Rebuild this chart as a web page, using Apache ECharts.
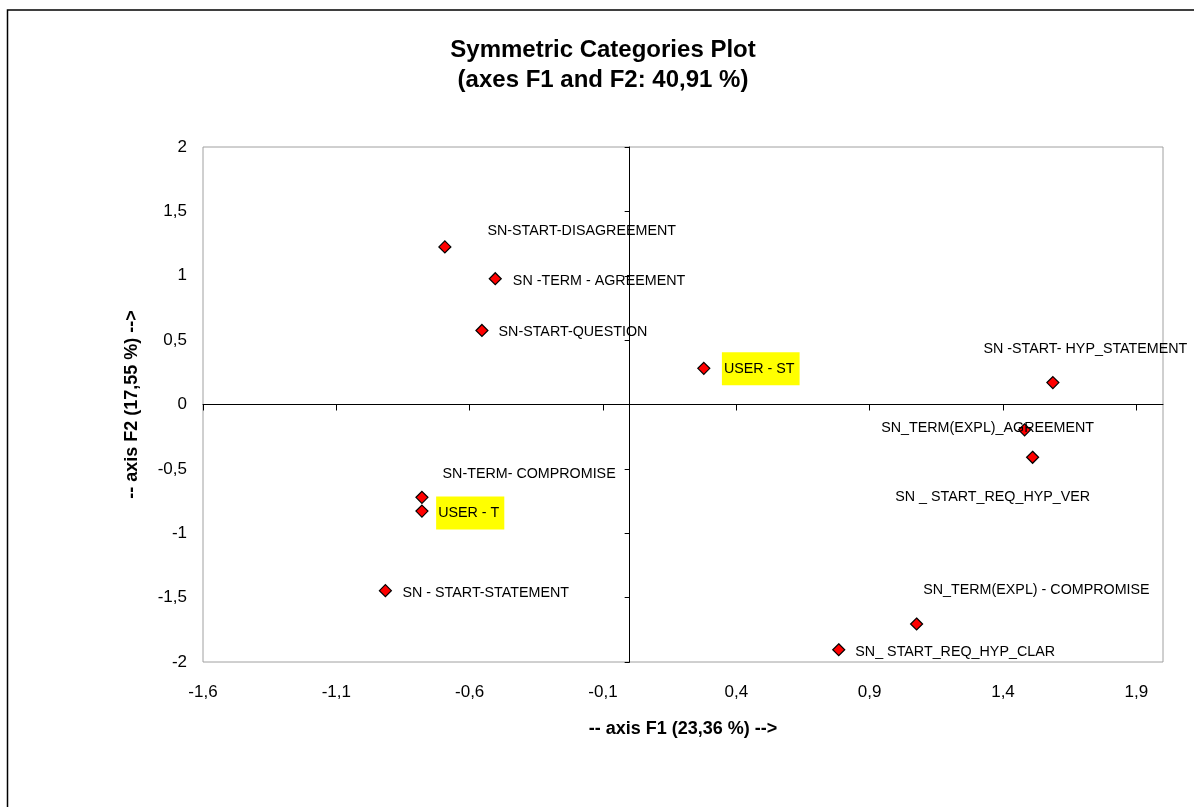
<!DOCTYPE html>
<html><head><meta charset="utf-8">
<script src="https://cdn.jsdelivr.net/npm/echarts@6/dist/echarts.min.js"></script>
<style>html,body{margin:0;padding:0;background:#fff}#c{width:1194px;height:807px}</style>
</head><body><div id="c"></div>
<script>
// ---- data ----
const categories = ['SN-START-DISAGREEMENT', 'SN -TERM - AGREEMENT', 'SN-START-QUESTION', 'USER - ST',
  'SN -START- HYP_STATEMENT', 'SN_TERM(EXPL)_AGREEMENT', 'SN _ START_REQ_HYP_VER', 'SN-TERM- COMPROMISE',
  'USER - T', 'SN - START-STATEMENT', 'SN_TERM(EXPL) - COMPROMISE', 'SN_ START_REQ_HYP_CLAR'];
const f1Values = [-0.693, -0.504, -0.554, 0.278, 1.587, 1.481, 1.511, -0.779, -0.779, -0.916, 1.076, 0.784];
const f2Values = [1.224, 0.977, 0.575, 0.281, 0.170, -0.197, -0.410, -0.721, -0.828, -1.446, -1.705, -1.905];
const xTickValues = [-1.6, -1.1, -0.6, -0.1, 0.4, 0.9, 1.4, 1.9];
const yTickValues = [-2, -1.5, -1, -0.5, 0, 0.5, 1, 1.5, 2];
const highlighted = ['USER - ST', 'USER - T'];

// ---- layout / style ----
const FONT = '"Liberation Sans", Arial, sans-serif';
const SYM = 12;
// label placement: [left of text relative to marker centre, vertical shift]
const labelPlacement = {
  'SN-START-DISAGREEMENT': [42, -16],
  'SN -TERM - AGREEMENT': [17, 2],
  'SN-START-QUESTION': [16, 2],
  'USER - ST': [17.5, 0.5],
  'SN -START- HYP_STATEMENT': [-70, -34],
  'SN_TERM(EXPL)_AGREEMENT': [-144, -2],
  'SN _ START_REQ_HYP_VER': [-138, 40],
  'SN-TERM- COMPROMISE': [20, -23],
  'USER - T': [13.6, 2],
  'SN - START-STATEMENT': [16.5, 2],
  'SN_TERM(EXPL) - COMPROMISE': [6, -34],
  'SN_ START_REQ_HYP_CLAR': [16, 2.4]
};
const comma = v => String(v).replace('.', ',');

const points = categories.map((name, i) => {
  const p = labelPlacement[name];
  const lab = { offset: [p[0] - SYM / 2, p[1]] };
  if (highlighted.indexOf(name) >= 0) {
    lab.backgroundColor = '#ffff00';
    lab.padding = [9, 5, 9, 2];
  }
  return { name: name, value: [f1Values[i], f2Values[i]], label: lab };
});

const xCommon = { type: 'value', min: -1.6, max: 2.0, position: 'bottom', gridIndex: 0 };
const yCommon = { type: 'value', min: -2, max: 2, interval: 0.5, position: 'left', gridIndex: 0 };

const chart = echarts.init(document.getElementById('c'), null, { renderer: 'canvas' });
chart.setOption({
  animation: false,
  backgroundColor: '#ffffff',
  textStyle: { fontFamily: FONT },
  title: {
    text: 'Symmetric Categories Plot\n(axes F1 and F2: 40,91 %)',
    left: 603, top: 35, padding: 0, textAlign: 'center',
    textStyle: { fontFamily: FONT, fontSize: 24, fontWeight: 'bold', color: '#000', lineHeight: 30 }
  },
  graphic: [{
    type: 'rect', silent: true, z: -1,
    shape: { x: 7.5, y: 10, width: 1300, height: 900 },
    style: { fill: 'none', stroke: '#000', lineWidth: 1.5 }
  }],
  grid: { left: 203, right: 31, top: 147, bottom: 145, show: true, borderColor: '#a0a0a0', borderWidth: 1, backgroundColor: 'transparent' },
  xAxis: [
    Object.assign({}, xCommon, {
      name: '-- axis F1 (23,36 %) -->', nameLocation: 'middle', nameGap: 58,
      nameTextStyle: { fontFamily: FONT, fontSize: 18, fontWeight: 'bold', color: '#000' },
      axisLine: { show: false, onZero: false }, axisTick: { show: false }, splitLine: { show: false },
      axisLabel: { customValues: xTickValues, formatter: comma, fontFamily: FONT, fontSize: 17, color: '#000', margin: 22 }
    }),
    Object.assign({}, xCommon, {
      axisLine: { show: true, onZero: true, onZeroAxisIndex: 0, lineStyle: { color: '#000', width: 1 } },
      axisTick: { show: true, inside: false, length: 6, customValues: xTickValues, lineStyle: { color: '#000' } },
      axisLabel: { show: false }, splitLine: { show: false }
    })
  ],
  yAxis: [
    Object.assign({}, yCommon, {
      name: '-- axis F2 (17,55 %) -->', nameLocation: 'middle', nameGap: 62, nameRotate: 90,
      nameTextStyle: { fontFamily: FONT, fontSize: 18, fontWeight: 'bold', color: '#000' },
      axisLine: { show: false, onZero: false }, axisTick: { show: false }, splitLine: { show: false },
      axisLabel: { customValues: yTickValues, formatter: comma, fontFamily: FONT, fontSize: 17, color: '#000', margin: 16 }
    }),
    Object.assign({}, yCommon, {
      axisLine: { show: true, onZero: true, onZeroAxisIndex: 0, lineStyle: { color: '#000', width: 1 } },
      axisTick: { show: true, inside: false, length: 5, customValues: yTickValues, lineStyle: { color: '#000' } },
      axisLabel: { show: false }, splitLine: { show: false }
    })
  ],
  series: [{
    type: 'scatter', xAxisIndex: 0, yAxisIndex: 0,
    symbol: 'diamond', symbolSize: SYM,
    itemStyle: { color: '#ff0000', borderColor: '#000', borderWidth: 1.2, opacity: 1 },
    label: {
      show: true, position: 'right', distance: 0, formatter: '{b}',
      fontFamily: FONT, fontSize: 14.3, color: '#000', lineHeight: 15, align: 'left', verticalAlign: 'middle'
    },
    emphasis: { disabled: true },
    data: points
  }]
});
</script>
</body></html>
